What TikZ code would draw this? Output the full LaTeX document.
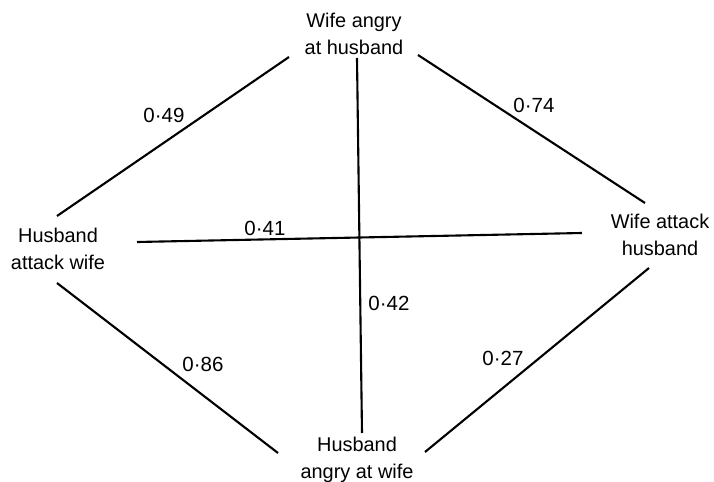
\documentclass[tikz,border=0pt]{standalone}
\usepackage{fontspec}
\setmainfont{Liberation Sans}
\usetikzlibrary{calc}
\definecolor{corrInk}{HTML}{000000}
\tikzset{
  corrState/.style={
    align=center,
    inner sep=0pt,
    text=corrInk,
    font=\fontsize{17}{23}\selectfont
  },
  corrValue/.style={
    inner sep=0pt,
    text=corrInk,
    font=\fontsize{17.5}{20}\selectfont
  },
  corrLine/.style={
    line width=1.8pt,
    draw=corrInk
  }
}

\begin{document}
\begin{tikzpicture}[x=0.03cm,y=-0.03cm]
\useasboundingbox (0,0) rectangle (714,482);

% The four states.
\node[corrState] (wifeAngry) at (354,34) {Wife angry\\at husband};
\node[corrState] (husbAttack) at (58,248.5) {Husband\\attack wife};
\node[corrState] (wifeAttack) at (660,235) {Wife attack\\husband};
\node[corrState] (husbAngry) at (357,460) {Husband\\angry at wife};

% Links between states.
\draw[corrLine] ($(husbAttack)+(-1,-32.5)$) -- ($(wifeAngry)+(-65,23)$);
\draw[corrLine] ($(wifeAngry)+(64,21)$) -- ($(wifeAttack)+(-15,-32)$);
\draw[corrLine] ($(wifeAngry)+(3,24)$) -- ($(husbAngry)+(5,-27)$);
\draw[corrLine] ($(husbAttack)+(79,-6.5)$) -- ($(wifeAttack)+(-78,-2)$);
\draw[corrLine] ($(husbAttack)+(-1,34.5)$) -- ($(husbAngry)+(-79,-7)$);
\draw[corrLine] ($(wifeAttack)+(-11,33)$) -- ($(husbAngry)+(68,-8)$);

% Correlation values.
\node[corrValue] (rA) at (164,115) {0·49};
\node[corrValue] (rB) at (534,105) {0·74};
\node[corrValue] (rC) at (265,228) {0·41};
\node[corrValue] (rD) at (389,303) {0·42};
\node[corrValue] (rE) at (203,364) {0·86};
\node[corrValue] (rF) at (503,358) {0·27};

\end{tikzpicture}
\end{document}
